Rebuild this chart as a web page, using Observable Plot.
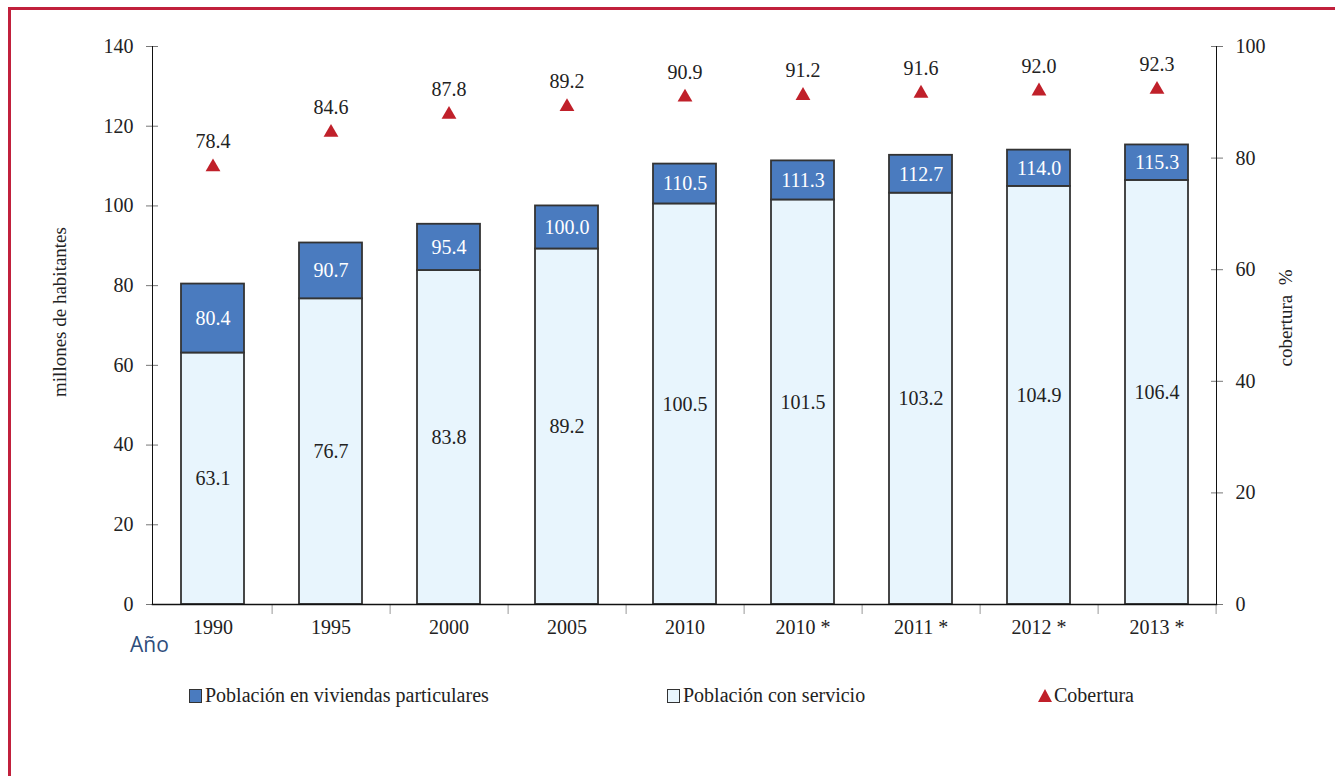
<!DOCTYPE html>
<html>
<head>
<meta charset="utf-8">
<script src="https://cdn.jsdelivr.net/npm/d3@7"></script>
<script src="https://cdn.jsdelivr.net/npm/@observablehq/plot@0.6"></script>
<style>
  body { margin: 0; background: #fff; }
  #wrap { position: relative; width: 1335px; height: 776px; overflow: hidden; font-family: "Liberation Serif", "DejaVu Serif", "Noto Serif", FreeSerif, Tinos, Georgia, Times, serif; color: #222; }
  #border { position: absolute; left: 8px; top: 7px; right: -10px; bottom: -10px; border-left: 3px solid #c1203c; border-top: 3px solid #c1203c; }
  #chart { position: absolute; left: 0; top: 0; }
  #chart svg text { font-family: "Liberation Serif", "DejaVu Serif", "Noto Serif", FreeSerif, Tinos, Georgia, Times, serif; }
  .ytitle { position: absolute; font-size: 19px; white-space: pre; transform: translate(-50%, -50%) rotate(-90deg); }
  #anio { position: absolute; left: 130px; top: 630px; font-family: "Open Sans", sans-serif; font-size: 21px; color: #2e4d7b; }
  .leg { position: absolute; top: 684px; font-size: 20px; display: flex; align-items: center; white-space: nowrap; }
  .sw { width: 11px; height: 12px; border: 1.5px solid #333; margin-right: 3px; }
  .tri { width: 0; height: 0; border-left: 7px solid transparent; border-right: 7px solid transparent; border-bottom: 13px solid #c0202a; margin-right: 2px; }
</style>
</head>
<body>
<div id="wrap">
  <div id="border"></div>
  <div id="chart"></div>
  <div class="ytitle" style="left:60px; top:312px;">millones de habitantes</div>
  <div class="ytitle" style="left:1286px; top:318px;">cobertura  %</div>
  <div id="anio">Año</div>
  <div class="leg" style="left:189px;"><div class="sw" style="background:#4a7bbf"></div>Población en viviendas particulares</div>
  <div class="leg" style="left:667px;"><div class="sw" style="background:#e8f5fd"></div>Población con servicio</div>
  <div class="leg" style="left:1038px;"><div class="tri"></div>Cobertura</div>
</div>
<script>
const categories = ["1990", "1995", "2000", "2005", "2010", "2010 *", "2011 *", "2012 *", "2013 *"];
const poblacionTotal = [80.4, 90.7, 95.4, 100.0, 110.5, 111.3, 112.7, 114.0, 115.3];
const poblacionServicio = [63.1, 76.7, 83.8, 89.2, 100.5, 101.5, 103.2, 104.9, 106.4];
const cobertura = [78.4, 84.6, 87.8, 89.2, 90.9, 91.2, 91.6, 92.0, 92.3];
const leftTicks = [0, 20, 40, 60, 80, 100, 120, 140];
const rightTicks = [0, 20, 40, 60, 80, 100];

const rows = categories.map((c, i) => ({
  cat: c, total: poblacionTotal[i], serv: poblacionServicio[i], cob: cobertura[i]
}));

const W = 1335, H = 660, mL = 152, mR = 119, mT = 46, mB = 56;
const ratio = 140 / 100; // right axis (0-100 %) mapped onto left (0-140)
const step = (W - mL - mR) / categories.length;
const fs = 20;
const serif = "'Liberation Serif', 'DejaVu Serif', 'Noto Serif', FreeSerif, Tinos, Georgia, Times, serif";

const chart = Plot.plot({
  width: W, height: H,
  marginLeft: mL, marginRight: mR, marginTop: mT, marginBottom: mB,
  style: { fontFamily: serif, fontSize: fs + "px", color: "#222", background: "transparent" },
  x: { type: "band", domain: categories, paddingInner: 0.47, paddingOuter: 0.235, axis: null, label: null },
  y: { domain: [0, 140], axis: null, label: null },
  marks: [
    Plot.barY(rows, { x: "cat", y1: 0, y2: "serv", fill: "#e8f5fd", stroke: "#333", strokeWidth: 1.8 }),
    Plot.barY(rows, { x: "cat", y1: "serv", y2: "total", fill: "#4a7bbf", stroke: "#333", strokeWidth: 1.8 }),
    Plot.text(rows, { x: "cat", y: d => d.serv / 2, text: d => d.serv.toFixed(1), fill: "#222", fontSize: fs }),
    Plot.text(rows, { x: "cat", y: d => (d.serv + d.total) / 2, text: d => d.total.toFixed(1), fill: "#fff", fontSize: fs }),
    Plot.dot(rows, { x: "cat", y: d => d.cob * ratio, symbol: "triangle", fill: "#c0202a", r: 5.5 }),
    Plot.text(rows, { x: "cat", y: d => d.cob * ratio, dy: -25, text: d => d.cob.toFixed(1), fill: "#222", fontSize: fs }),
    // left axis
    Plot.axisY(leftTicks, { anchor: "left", tickSize: 12, dx: 6, tickPadding: 13, stroke: "#777", fill: "#222", fontSize: fs, label: null }),
    // right axis
    Plot.axisY(rightTicks.map(v => v * ratio), { anchor: "right", tickSize: 12, dx: -6, tickPadding: 13, stroke: "#777", fill: "#222", fontSize: fs, label: null, tickFormat: d => String(Math.round(d / ratio)) }),
    // x axis labels
    Plot.axisX({ tickSize: 0, tickPadding: 15, fill: "#222", fontSize: fs, label: null }),
    // x axis boundary ticks
    Plot.axisX({ tickSize: 10, dx: step / 2, stroke: "#999", label: null, tickFormat: () => "" }),
    Plot.frame({ anchor: "left", stroke: "#111" }),
    Plot.frame({ anchor: "right", stroke: "#111" }),
    Plot.frame({ anchor: "bottom", stroke: "#111", strokeWidth: 1.5 })
  ]
});
document.getElementById("chart").appendChild(chart);
</script>
</body>
</html>
